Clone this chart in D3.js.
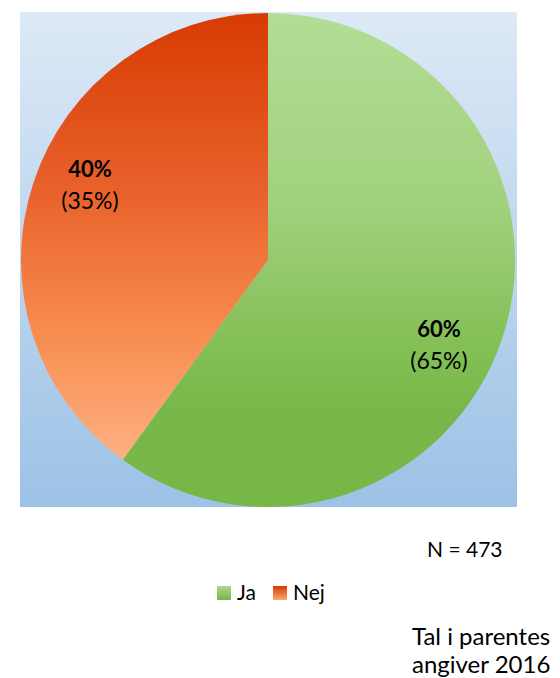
<!DOCTYPE html>
<html>
<head>
<meta charset="utf-8">
<script src="https://cdn.jsdelivr.net/npm/d3@7"></script>
<style>
  body { margin: 0; background: #fff; }
  text { font-family: Lato, "Open Sans", sans-serif; fill: #000; }
</style>
</head>
<body>
<svg width="560" height="678"></svg>
<script>
const categories = ["Ja", "Nej"];
const values = [60, 40];
const values2016 = [65, 35];
const nLabel = "N = 473";
const noteLines = ["Tal i parentes", "angiver 2016"];

const svg = d3.select("svg");
const plot = { x: 20, y: 12, w: 497, h: 495 };
const cx = 268, cy = 260, r = 247;

const defs = svg.append("defs");
// gradients are in the user space of the element that uses them
function grad(id, stops, y1, y2) {
  const g = defs.append("linearGradient").attr("id", id)
    .attr("gradientUnits", "userSpaceOnUse")
    .attr("x1", 0).attr("x2", 0).attr("y1", y1).attr("y2", y2);
  stops.forEach(s => g.append("stop").attr("offset", s[0]).attr("stop-color", s[1]));
}
grad("bg", [[0, "#dde9f6"], [1, "#9cc2e6"]], plot.y, plot.y + plot.h);
grad("g-Ja", [[0, "#b3dd96"], [0.4, "#a0d07c"], [0.65, "#85c158"], [0.8, "#78b84a"], [1, "#76b748"]], -r, r);
grad("g-Nej", [[0, "#d73b03"], [0.35, "#e8602a"], [0.65, "#f88d4f"], [0.9, "#fcb082"], [1, "#fdbd96"]], -r, r);
grad("l-Ja", [[0, "#a9d68a"], [1, "#77b84a"]], 0, 14);
grad("l-Nej", [[0, "#d73b03"], [1, "#fba874"]], 0, 14);

svg.append("rect")
  .attr("x", plot.x).attr("y", plot.y)
  .attr("width", plot.w).attr("height", plot.h)
  .attr("fill", "url(#bg)");

const pie = d3.pie().sort(null).value(d => d.v);
const data = categories.map((c, i) => ({ c, v: values[i], old: values2016[i] }));
const arcs = pie(data);
const arc = d3.arc().innerRadius(0).outerRadius(r);

const g = svg.append("g").attr("transform", `translate(${cx},${cy})`);
g.selectAll("path").data(arcs).enter().append("path")
  .attr("d", arc)
  .attr("fill", d => `url(#g-${d.data.c})`);

// labels sitting inside each slice
const labelPos = { Ja: [171, 77], Nej: [-178, -83] };
arcs.forEach(a => {
  const p = labelPos[a.data.c];
  g.append("text").attr("x", p[0]).attr("y", p[1])
    .attr("text-anchor", "middle").attr("font-size", 22).attr("font-weight", "bold")
    .text(a.data.v + "%");
  g.append("text").attr("x", p[0]).attr("y", p[1] + 32)
    .attr("text-anchor", "middle").attr("font-size", 23)
    .text("(" + a.data.old + "%)");
});

svg.append("text").attr("x", 427).attr("y", 557).attr("font-size", 21).text(nLabel);

const leg = svg.append("g").attr("transform", "translate(217,586)");
const legX = [0, 56];
categories.forEach((c, i) => {
  leg.append("rect").attr("x", legX[i]).attr("y", 0).attr("width", 14).attr("height", 14)
    .attr("fill", `url(#l-${c})`);
  leg.append("text").attr("x", legX[i] + 20).attr("y", 14).attr("font-size", 21).text(c);
});

noteLines.forEach((t, i) => {
  svg.append("text").attr("x", 412).attr("y", 645 + i * 28).attr("font-size", 24).text(t);
});
</script>
</body>
</html>
